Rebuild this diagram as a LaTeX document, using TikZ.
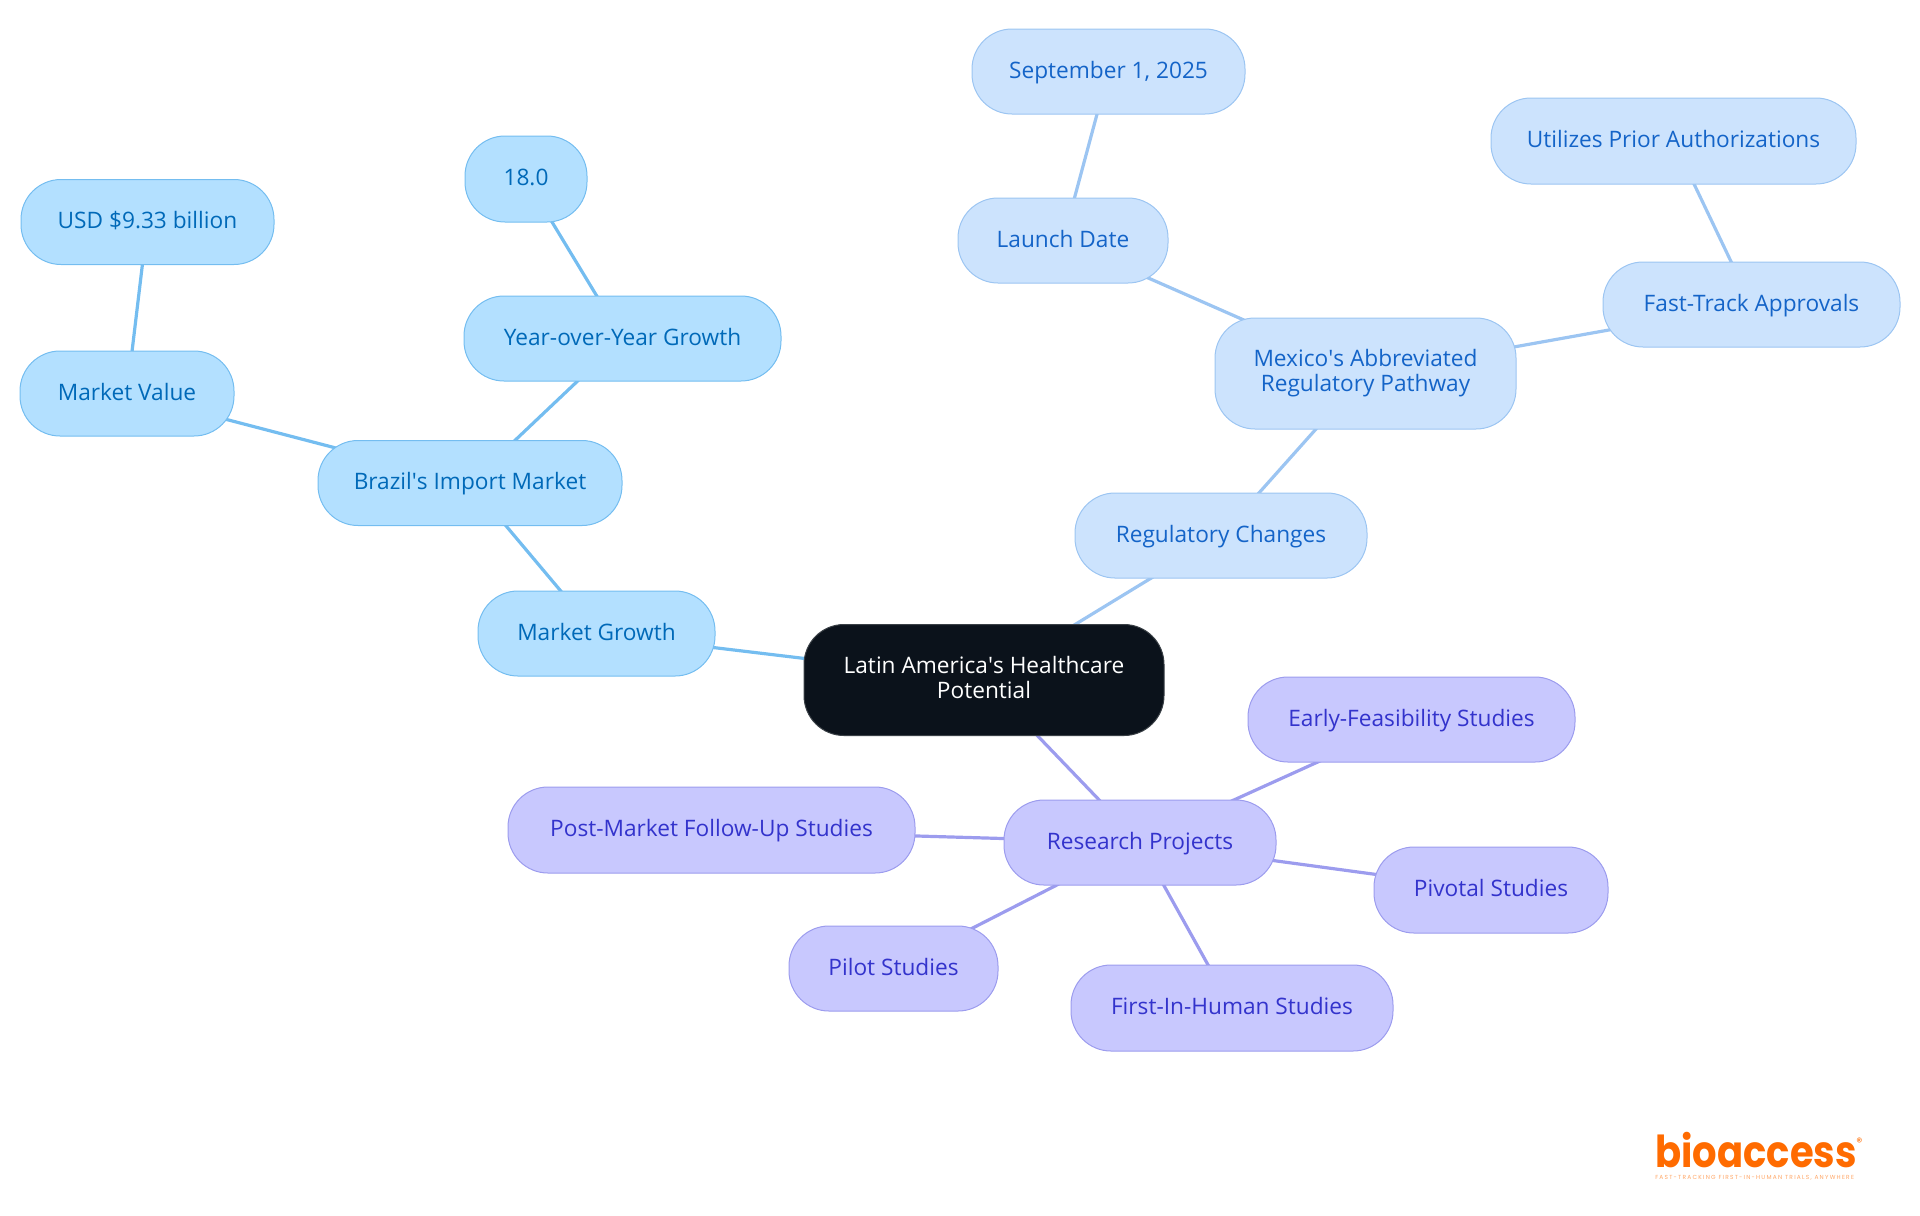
\documentclass[tikz,border=0pt]{standalone}
\usepackage{fontspec}
\setmainfont{Open Sans}
\newfontfamily\logofont{Poppins}
\usetikzlibrary{backgrounds}
\definecolor{rootfill}{HTML}{0B121B}
\definecolor{rootline}{HTML}{3A4046}
\definecolor{growfill}{HTML}{B3E0FF}
\definecolor{growline}{HTML}{74BDF0}
\definecolor{growtext}{HTML}{0069B8}
\definecolor{regfill}{HTML}{CCE3FD}
\definecolor{regline}{HTML}{9CC5F2}
\definecolor{regtext}{HTML}{1464C8}
\definecolor{resfill}{HTML}{C8C8FE}
\definecolor{resline}{HTML}{9C9CEE}
\definecolor{restext}{HTML}{3333CC}
\definecolor{logoorange}{HTML}{FF6B00}
\tikzset{
	mapbox/.style={rectangle, rounded corners=30pt, inner sep=0pt, line width=0.75pt, align=center, font=\fontsize{17pt}{18.8pt}\selectfont},
	oneline/.style={text height=14pt, text depth=4pt},
	rootbox/.style={mapbox, fill=rootfill, draw=rootline, text=white},
	growbox/.style={mapbox, oneline, fill=growfill, draw=growline, text=growtext},
	regbox/.style={mapbox, oneline, fill=regfill, draw=regline, text=regtext},
	resbox/.style={mapbox, oneline, fill=resfill, draw=resline, text=restext},
	growedge/.style={draw=growline, line width=2.4pt},
	regedge/.style={draw=regline, line width=2.4pt},
	resedge/.style={draw=resline, line width=2.4pt},
}

\begin{document}
\begin{tikzpicture}[x=0.75pt,y=-0.75pt]
		\useasboundingbox (0,0) rectangle (1920,1215);
		% root
		\node[rootbox, minimum width=270pt, minimum height=83.25pt] (root) at (984,680) {Latin America\textquotesingle s Healthcare\\Potential\vphantom{y}};
		% first branch
		\node[growbox, minimum width=177.75pt, minimum height=63.75pt] (growth) at (596.5,633.5) {Market Growth};
		\node[growbox, minimum width=228pt, minimum height=63.75pt] (brazil) at (470,483) {Brazil\textquotesingle s Import Market};
		\node[growbox, minimum width=237.75pt, minimum height=63.75pt] (yoy) at (622.5,338.5) {Year-over-Year Growth};
		\node[growbox, minimum width=91.5pt, minimum height=64.5pt] (rate) at (526,179) {18.0};
		\node[growbox, minimum width=160.5pt, minimum height=63.75pt] (value) at (127,393.5) {Market Value};
		\node[growbox, minimum width=189.75pt, minimum height=63.75pt] (usd) at (147.5,222) {USD \$9.33 billion};
		% second branch
		\node[regbox, minimum width=219pt, minimum height=63.75pt] (reg) at (1221,535.5) {Regulatory Changes};
		\node[regbox, text height=, text depth=, minimum width=225.75pt, minimum height=83.25pt] (mexico) at (1365.5,373.5) {Mexico\textquotesingle s Abbreviated\\Regulatory Pathway};
		\node[regbox, minimum width=157.5pt, minimum height=63.75pt] (launch) at (1063,240.5) {Launch Date};
		\node[regbox, minimum width=204.75pt, minimum height=63.75pt] (sept) at (1108.5,71.5) {September 1, 2025};
		\node[regbox, minimum width=222.75pt, minimum height=63.75pt] (fast) at (1751.5,304.5) {Fast-Track Approvals};
		\node[regbox, minimum width=273.75pt, minimum height=64.5pt] (prior) at (1673.5,141) {Utilizes Prior Authorizations};
		% third branch
		\node[resbox, minimum width=204pt, minimum height=63.75pt] (res) at (1140,842.5) {Research Projects};
		\node[resbox, minimum width=245.25pt, minimum height=63.75pt] (early) at (1411.5,719.5) {Early-Feasibility Studies};
		\node[resbox, minimum width=175.5pt, minimum height=64.5pt] (pivotal) at (1491,890) {Pivotal Studies};
		\node[resbox, minimum width=241.5pt, minimum height=64.5pt] (first) at (1232,1008) {First-In-Human Studies};
		\node[resbox, minimum width=156.75pt, minimum height=63.75pt] (pilot) at (893.5,968.5) {Pilot Studies};
		\node[resbox, minimum width=305.25pt, minimum height=64.5pt] (post) at (711.5,830) {Post-Market Follow-Up Studies};
		% connectors go behind the boxes
		\begin{scope}[on background layer]
			\draw[growedge] (root.center) -- (growth.center);
			\draw[growedge] (growth.center) -- (brazil.center);
			\draw[growedge] (brazil.center) -- (yoy.center);
			\draw[growedge] (yoy.center) -- (rate.center);
			\draw[growedge] (brazil.center) -- (value.center);
			\draw[growedge] (value.center) -- (usd.center);
			\draw[regedge] (root.center) -- (reg.center);
			\draw[regedge] (reg.center) -- (mexico.center);
			\draw[regedge] (mexico.center) -- (launch.center);
			\draw[regedge] (launch.center) -- (sept.center);
			\draw[regedge] (mexico.center) -- (fast.center);
			\draw[regedge] (fast.center) -- (prior.center);
			\draw[resedge] (root.center) -- (res.center);
			\draw[resedge] (res.center) -- (early.center);
			\draw[resedge] (res.center) -- (pivotal.center);
			\draw[resedge] (res.center) -- (first.center);
			\draw[resedge] (res.center) -- (pilot.center);
			\draw[resedge] (res.center) -- (post.center);
		\end{scope}
		% logo
		\node[inner sep=0pt, anchor=base west, xscale=0.875, text=logoorange, font=\logofont\bfseries\fontsize{33pt}{33pt}\selectfont] (logo) at (1655,1167) {bioaccess};
		\node[inner sep=0pt, anchor=west, text=logoorange, font=\logofont\fontsize{9pt}{9pt}\selectfont] (regmark) at (1856,1142) {®};
		\node[inner sep=0pt, anchor=base west, text=logoorange!60, font=\logofont\fontsize{4.4pt}{5pt}\selectfont\addfontfeature{LetterSpace=21}] (slogan) at (1655,1179) {FAST-TRACKING FIRST-IN-HUMAN TRIALS, ANYWHERE};
	\end{tikzpicture}
\end{document}
